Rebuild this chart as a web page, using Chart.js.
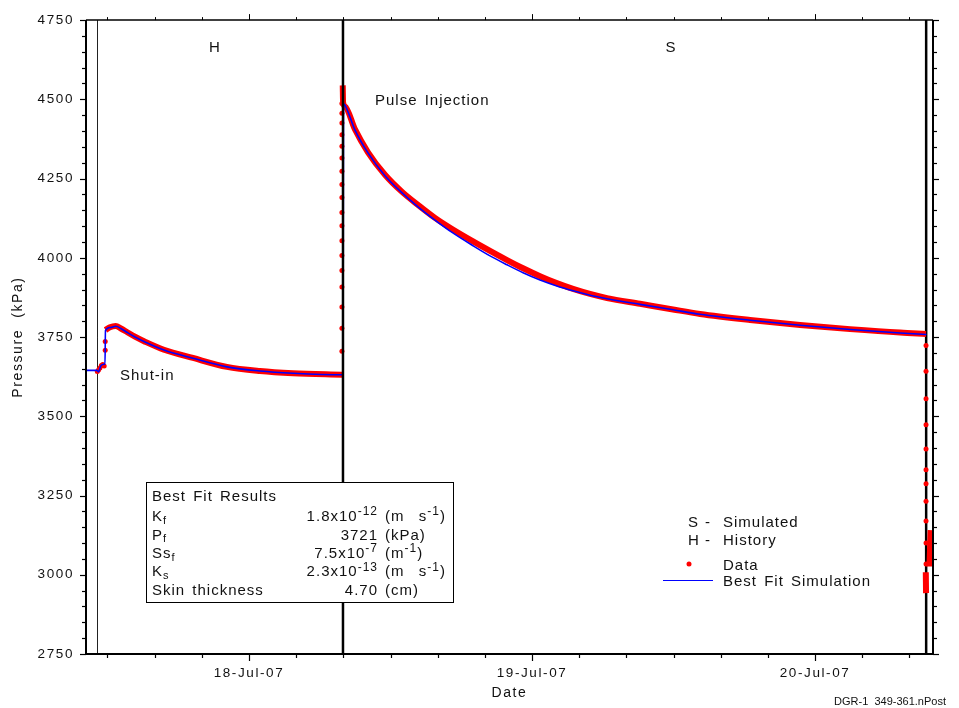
<!DOCTYPE html>
<html>
<head>
<meta charset="utf-8">
<script src="https://cdn.jsdelivr.net/npm/chart.js@4.4.1/dist/chart.umd.min.js"></script>
<style>
  html, body { margin: 0; padding: 0; background: #fff; }
  #wrap { width: 959px; height: 708px; }
</style>
</head>
<body>
<div id="wrap"><canvas id="pressureChart" width="959" height="708"></canvas></div>
<script>
// time axis runs in hours from 18-Jul-07 00:00
const hourMin = -13.82;
const hourMax = 58;
const xTickHours = [0, 24, 48];
const xTickLabels = ['18-Jul-07', '19-Jul-07', '20-Jul-07'];
const yTickValues = [2750, 3000, 3250, 3500, 3750, 4000, 4250, 4500, 4750];

// event times (h)
const shutInHour = -12.89;
const pulseHour = 7.97;
const endHour = 57.42;

// best fit simulation
const simHours = [-13.82, -12.89, -12.76, -12.55, -12.30, -12.21, -12.17, -11.79, -11.30, -10.86,
  -10.35, -9.67, -8.90, -7.21, -4.75, -1.87, 0.93, 3.73, 7.97, 8.02,
  8.14, 8.99, 10.09, 11.53, 12.98, 14.33, 15.77, 17.22, 19.00, 20.44,
  21.88, 23.24, 24.68, 26.04, 27.48, 28.92, 30.36, 33.16, 35.96, 38.25,
  42.49, 46.73, 50.97, 55.21, 57.45];
const simKpa = [3645, 3645, 3640, 3660, 3664, 3664, 3770, 3780, 3784, 3777,
  3765, 3750, 3736, 3709, 3683, 3656, 3643, 3636, 3631, 4486,
  4482, 4403, 4331, 4259, 4205, 4161, 4119, 4080, 4038, 4006,
  3978, 3953, 3930, 3912, 3896, 3882, 3871, 3853, 3836, 3822,
  3803, 3787, 3774, 3763, 3758];

// logged pressure, dense stretches (null breaks the trace)
const dataHours = [-12.17, -11.79, -11.30, -10.86, -10.35, -9.67, -8.90, -7.21, -4.75, -1.87,
  0.93, 3.73, 7.90, 7.92, 7.95, 7.98, 8.14, 8.99, 10.09, 11.53,
  12.98, 14.33, 15.77, 17.22, 19.00, 20.44, 21.88, 23.24, 24.68, 26.04,
  27.48, 28.92, 30.36, 33.16, 35.96, 38.25, 42.49, 46.73, 50.97, 55.21,
  57.41, 57.42, 57.39, 57.41, 57.50, 57.70, 57.80];
const dataKpa = [3772, 3781, 3785, 3777, 3766, 3751, 3737, 3710, 3684, 3656,
  3643, 3636, 3631, null, 4544, 4490, 4478, 4405, 4333, 4262,
  4208, 4167, 4126, 4091, 4052, 4022, 3993, 3967, 3942, 3921,
  3902, 3886, 3873, 3855, 3837, 3823, 3804, 3788, 3775, 3764,
  3760, null, 3008, 2942, null, 3026, 3141];

// logged pressure, isolated readings
const pointHours = [-12.86, -12.76, -12.64, -12.52, -12.40, -12.28, -12.19, -12.19,
  7.88, 7.88, 7.88, 7.88, 7.88, 7.88, 7.88, 7.88, 7.88, 7.88, 7.88, 7.88, 7.88, 7.88, 7.88, 7.88, 7.88, 7.88,
  57.41, 57.41, 57.41, 57.41, 57.41, 57.41, 57.41, 57.41, 57.41, 57.41, 57.41];
const pointKpa = [3641, 3646, 3652, 3660, 3663, 3659, 3708, 3736,
  3705, 3778, 3845, 3908, 3960, 4007, 4054, 4101, 4143, 4190, 4231, 4273, 4315, 4352, 4388, 4425, 4456, 4487,
  3723, 3642, 3555, 3473, 3397, 3331, 3287, 3232, 3170, 3100, 3034];

// best fit results table
const fitSymbols = ['K', 'P', 'Ss', 'K', 'Skin thickness'];
const fitSubscripts = ['f', 'f', 'f', 's', ''];
const fitMantissas = ['1.8x10', '3721', '7.5x10', '2.3x10', '4.70'];
const fitExponents = ['-12', '', '-7', '-13', ''];
const fitUnits = ['(m  s', '(kPa)', '(m', '(m  s', '(cm)'];
const fitUnitExponents = ['-1', '', '-1', '-1', ''];

const FONT = '"Liberation Sans", Arial, sans-serif';
const RED = '#ff0000';
const BLUE = '#0000ff';

Chart.defaults.font.family = FONT;
Chart.defaults.color = '#000';

function setFont(ctx, size, spacing) {
  ctx.font = size + 'px ' + FONT;
  ctx.letterSpacing = spacing + 'px';
}

function label(ctx, str, x, y, align, size = 15, spacing = 1) {
  setFont(ctx, size, spacing);
  ctx.textAlign = align;
  ctx.textBaseline = 'middle';
  ctx.fillText(str, x, y);
}

// draws a row of text pieces (sub/superscripts use dy)
function runs(ctx, parts, x, y, align) {
  let total = 0;
  parts.forEach(p => {
    setFont(ctx, p.size, p.spacing);
    p.w = ctx.measureText(p.text).width;
    total += p.w;
  });
  let cx = align === 'right' ? x - total : x;
  ctx.textAlign = 'left';
  ctx.textBaseline = 'middle';
  parts.forEach(p => {
    setFont(ctx, p.size, p.spacing);
    ctx.fillText(p.text, cx, y + p.dy);
    cx += p.w;
  });
}

function vline(ctx, x, y0, y1, w) {
  ctx.lineWidth = w;
  ctx.beginPath();
  ctx.moveTo(x, y0);
  ctx.lineTo(x, y1);
  ctx.stroke();
}

function hline(ctx, x0, x1, y, w) {
  ctx.lineWidth = w;
  ctx.beginPath();
  ctx.moveTo(x0, y);
  ctx.lineTo(x1, y);
  ctx.stroke();
}

const decorations = {
  id: 'decorations',
  beforeDraw(chart) {
    chart.ctx.letterSpacing = '1.6px';
  },
  beforeDatasetsDraw(chart) {
    const {ctx, chartArea: a, scales: {x}} = chart;
    ctx.save();
    ctx.strokeStyle = '#222';
    vline(ctx, Math.round(x.getPixelForValue(shutInHour)) + 0.5, a.top, a.bottom, 1);
    ctx.strokeStyle = '#000';
    vline(ctx, x.getPixelForValue(endHour), a.top, a.bottom, 2.5);
    ctx.restore();
  },
  afterDatasetsDraw(chart) {
    const {ctx, chartArea: a, scales: {x, y}} = chart;
    ctx.save();
    ctx.strokeStyle = '#000';
    ctx.fillStyle = '#000';

    // pulse line sits over the jump in the traces
    vline(ctx, x.getPixelForValue(pulseHour), a.top, a.bottom, 2.5);

    // frame
    hline(ctx, a.left, a.right, a.top, 1.5);
    hline(ctx, a.left - 1, a.right + 1, a.bottom, 2);
    vline(ctx, a.left, a.top, a.bottom + 1, 2);
    vline(ctx, a.right, a.top, a.bottom + 1, 2);

    // pressure ticks every 50 kPa on both sides
    for (let v = y.min; v <= y.max; v += 50) {
      const py = Math.round(y.getPixelForValue(v)) + 0.5;
      const len = (v - y.min) % 250 === 0 ? 6 : 4;
      hline(ctx, a.left - len, a.left, py, 1.2);
      hline(ctx, a.right, a.right + len, py, 1.2);
    }
    // time ticks every 4 h
    for (let h = -12; h <= 56; h += 4) {
      const px = Math.round(x.getPixelForValue(h)) + 0.5;
      const len = h % 24 === 0 ? 7 : 4;
      vline(ctx, px, a.bottom, a.bottom + len, 1.2);
      vline(ctx, px, a.top - len + 1, a.top, 1);
    }

    // period labels
    ctx.fillStyle = '#111';
    label(ctx, 'H', 215, 48, 'center');
    label(ctx, 'S', 671, 48, 'center');
    ctx.wordSpacing = '2px';
    label(ctx, 'Pulse Injection', 375, 101, 'left');
    label(ctx, 'Shut-in', 120, 376, 'left');

    // best fit results box
    const bx = 146, by = 482, bw = 307, bh = 120;
    ctx.fillStyle = '#fff';
    ctx.fillRect(bx, by, bw, bh);
    ctx.lineWidth = 1;
    ctx.strokeRect(bx + 0.5, by + 0.5, bw, bh);
    ctx.fillStyle = '#111';
    label(ctx, 'Best Fit Results', bx + 6, by + 15, 'left');
    fitSymbols.forEach((sym, i) => {
      const ry = by + 35 + i * 18.4;
      runs(ctx, [
        {text: sym, size: 15, spacing: 1, dy: 0},
        {text: fitSubscripts[i], size: 11, spacing: 0.5, dy: 4}
      ], bx + 6, ry, 'left');
      runs(ctx, [
        {text: fitMantissas[i], size: 15, spacing: 1, dy: 0},
        {text: fitExponents[i], size: 12, spacing: 1, dy: -5}
      ], 378, ry, 'right');
      runs(ctx, [
        {text: fitUnits[i], size: 15, spacing: 1, dy: 0},
        {text: fitUnitExponents[i], size: 12, spacing: 1, dy: -5},
        {text: fitUnitExponents[i] ? ')' : '', size: 15, spacing: 1, dy: 0}
      ], 385, ry, 'left');
    });

    // legend
    label(ctx, 'S', 688, 523, 'left');
    label(ctx, '-', 705, 523, 'left');
    label(ctx, 'Simulated', 723, 523, 'left');
    label(ctx, 'H', 688, 541, 'left');
    label(ctx, '-', 705, 541, 'left');
    label(ctx, 'History', 723, 541, 'left');
    ctx.fillStyle = RED;
    ctx.beginPath();
    ctx.arc(689, 564, 2.5, 0, Math.PI * 2);
    ctx.fill();
    ctx.strokeStyle = BLUE;
    hline(ctx, 663, 713, 580.5, 1.2);
    ctx.fillStyle = '#111';
    label(ctx, 'Data', 723, 566, 'left');
    label(ctx, 'Best Fit Simulation', 723, 582, 'left');

    ctx.wordSpacing = '0px';
    label(ctx, 'DGR-1  349-361.nPost', 946, 702, 'right', 11, 0);
    ctx.restore();
  }
};

const xy = (xs, ys) => xs.map((h, i) => ({x: h, y: ys[i]}));

new Chart(document.getElementById('pressureChart'), {
  type: 'line',
  data: {
    datasets: [
      {
        label: 'Best Fit Simulation',
        data: xy(simHours, simKpa),
        borderColor: BLUE,
        borderWidth: 1.6,
        pointRadius: 0,
        cubicInterpolationMode: 'monotone',
        fill: false
      },
      {
        label: 'Data',
        data: xy(pointHours, pointKpa),
        showLine: false,
        pointRadius: 2.5,
        pointBorderWidth: 0,
        pointBackgroundColor: RED
      },
      {
        label: 'Data',
        data: xy(dataHours, dataKpa),
        borderColor: RED,
        borderWidth: 6,
        pointRadius: 0,
        spanGaps: false,
        cubicInterpolationMode: 'monotone',
        fill: false
      }
    ]
  },
  options: {
    responsive: false,
    animation: false,
    events: [],
    layout: {padding: {top: 16, right: 26, left: 0, bottom: 0}},
    plugins: {legend: {display: false}, tooltip: {enabled: false}},
    scales: {
      x: {
        type: 'linear',
        min: hourMin,
        max: hourMax,
        grid: {display: false, drawTicks: false},
        border: {display: false},
        afterBuildTicks: s => { s.ticks = xTickHours.map(v => ({value: v})); },
        afterFit: s => { s.height = 54; },
        ticks: {
          callback: v => xTickLabels[xTickHours.indexOf(v)],
          padding: 11,
          maxRotation: 0,
          autoSkip: false,
          color: '#111',
          font: {size: 13.5}
        },
        title: {display: true, text: 'Date', color: '#111', font: {size: 14}, padding: {top: 0, bottom: 6}}
      },
      y: {
        min: 2750,
        max: 4750,
        grid: {display: false, drawTicks: false},
        border: {display: false},
        afterBuildTicks: s => { s.ticks = yTickValues.map(v => ({value: v})); },
        afterFit: s => { s.width = 86; },
        ticks: {callback: v => String(v), padding: 12, color: '#111', font: {size: 13.5}},
        title: {display: true, text: 'Pressure  (kPa)', color: '#111', font: {size: 14}, padding: {top: 10, bottom: 0}}
      }
    }
  },
  plugins: [decorations]
});
</script>
</body>
</html>
